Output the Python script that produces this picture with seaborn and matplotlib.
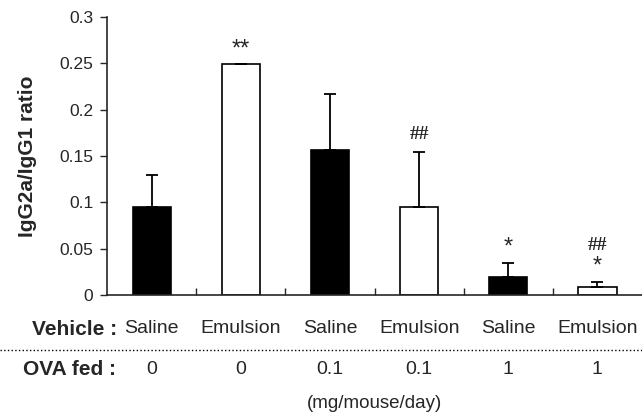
import numpy as np
import pandas as pd
import matplotlib
matplotlib.use('Agg')
import matplotlib.pyplot as plt
import matplotlib.transforms as mtransforms
import seaborn as sns

# datos
vehicle = ['Saline', 'Emulsion', 'Saline', 'Emulsion', 'Saline', 'Emulsion']
ova_fed = ['0', '0', '0.1', '0.1', '1', '1']
ratio = [0.095, 0.249, 0.156, 0.095, 0.019, 0.009]
sd = [0.035, 0.0, 0.061, 0.059, 0.016, 0.005]
marks = [[], ['**'], [], ['##'], ['*'], ['*', '##']]  # de abajo hacia arriba

sns.set_style('ticks')
plt.rcParams['font.family'] = ['Liberation Sans', 'DejaVu Sans']

df = pd.DataFrame({'grupo': [f'{v}_{o}' for v, o in zip(vehicle, ova_fed)],
                   'vehicle': vehicle, 'ratio': ratio})

fig = plt.figure(figsize=(6.42, 4.16), dpi=100)
ax = fig.add_axes([0.167, 0.291, 0.833, 0.668])

sns.barplot(data=df, x='grupo', y='ratio', hue='vehicle',
            palette={'Saline': 'black', 'Emulsion': 'white'},
            edgecolor='black', linewidth=1.2, width=0.43, dodge=False,
            errorbar=None, legend=False, ax=ax)

x = np.arange(len(ratio))
ax.errorbar(x, ratio, yerr=[np.zeros(len(sd)), sd], fmt='none',
            ecolor='black', elinewidth=1.3, capsize=4, capthick=1.3)

# marcas de significancia
for xi, r, s, ms in zip(x, ratio, sd, marks):
    off = 7
    for m in ms:
        if '#' in m:
            ax.annotate(m, (xi, r + s), xytext=(0, off), textcoords='offset points',
                        ha='center', va='bottom', fontsize=14, fontweight='bold',
                        family=['Liberation Serif'])
            off += 14
        else:
            ax.annotate(m, (xi, r + s), xytext=(0, off - 4), textcoords='offset points',
                        ha='center', va='bottom', fontsize=17)
            off += 13

ax.set_xlim(-0.5, 5.5)
ax.set_ylim(0, 0.3)
ax.set_yticks([0, 0.05, 0.1, 0.15, 0.2, 0.25, 0.3])
ax.set_yticklabels(['0', '0.05', '0.1', '0.15', '0.2', '0.25', '0.3'])
ax.tick_params(axis='y', labelsize=12.5, length=5, width=1, pad=5)
ax.set_xticks(x)
ax.set_xticklabels(vehicle, fontsize=14)
ax.tick_params(axis='x', length=0, pad=18)
ax.set_xticks(x[:-1] + 0.5, minor=True)
ax.tick_params(axis='x', which='minor', direction='in', length=5, width=1)
ax.set_xlabel('')
ax.set_ylabel('IgG2a/IgG1 ratio', fontsize=15, fontweight='bold')
ax.yaxis.set_label_coords(-0.132, 0.5)
sns.despine(ax=ax, right=True, top=True)
for sp in ['left', 'bottom']:
    ax.spines[sp].set_linewidth(1.2)

# filas de texto bajo el eje
fig.text(0.182, 0.209, 'Vehicle :', fontsize=15, fontweight='bold', ha='right', va='center')
fig.text(0.180, 0.111, 'OVA fed :', fontsize=15, fontweight='bold', ha='right', va='center')
trans = mtransforms.blended_transform_factory(ax.transData, fig.transFigure)
for xi, o in zip(x, ova_fed):
    ax.text(xi, 0.111, o, transform=trans, ha='center', va='center', fontsize=14)
ax.text(2.5, 0.029, '(mg/mouse/day)', transform=trans, ha='center',
        va='center', fontsize=13.5)
fig.add_artist(plt.Line2D([0, 1], [0.159, 0.159], transform=fig.transFigure,
                          color='black', linestyle=':', linewidth=1))

fig.savefig('out.png', dpi=100)
